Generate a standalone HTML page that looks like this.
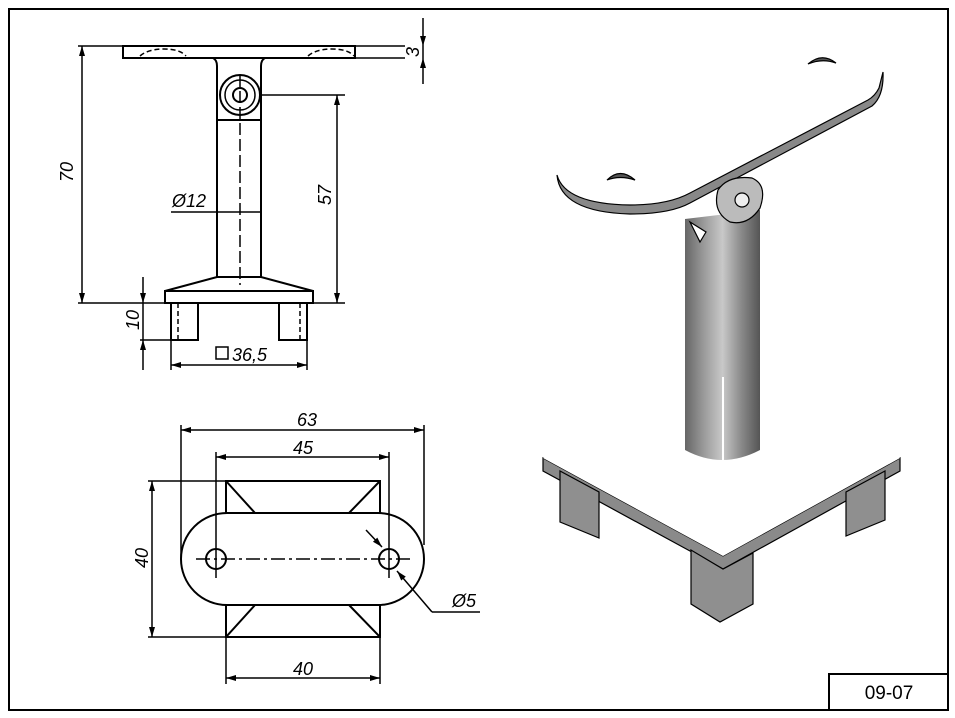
<!DOCTYPE html>
<html><head><meta charset="utf-8"><style>
html,body{margin:0;padding:0;background:#fff;}
svg{display:block;}
text{font-family:"Liberation Sans",sans-serif;font-style:italic;fill:#000;}
</style></head><body>
<svg width="955" height="718" viewBox="0 0 955 718" xmlns="http://www.w3.org/2000/svg">
<defs>
<marker id="a" viewBox="0 0 10 6" refX="10" refY="3" markerWidth="8" markerHeight="4" orient="auto-start-reverse"><path d="M0,0L10,3L0,6z" fill="#000"/></marker>
<linearGradient id="tube" x1="0" x2="1" y1="0" y2="0">
<stop offset="0" stop-color="#666"/><stop offset="0.25" stop-color="#9a9a9a"/><stop offset="0.5" stop-color="#c8c8c8"/><stop offset="0.75" stop-color="#8a8a8a"/><stop offset="1" stop-color="#555"/></linearGradient>
</defs>
<rect x="9" y="9" width="939" height="701" fill="none" stroke="#000" stroke-width="2"/>
<rect x="829" y="674" width="119" height="36" fill="none" stroke="#000" stroke-width="2"/>
<text x="889" y="699" font-size="19" text-anchor="middle" style="font-style:normal">09-07</text>

<g stroke="#000" stroke-width="2" fill="none">
<rect x="123" y="46" width="232" height="12" fill="#fff"/>
<path d="M140,56 q8,-7 24,-7 q16,0 22,7" stroke-dasharray="5,3" stroke-width="1.5"/>
<path d="M308,56 q8,-7 24,-7 q16,0 22,7" stroke-dasharray="5,3" stroke-width="1.5"/>
<path d="M213,58 q4,2 4,8 L217,120 L261,120 L261,66 q0,-6 4,-8"/>
<circle cx="240" cy="95" r="20"/><circle cx="240" cy="95" r="15" stroke-width="1.5"/>
<circle cx="240" cy="95" r="7"/>
<line x1="217" y1="120" x2="261" y2="120" stroke-dasharray="6,3"/>
<line x1="217" y1="120" x2="217" y2="277"/><line x1="261" y1="120" x2="261" y2="277"/>
<path d="M217,277 L261,277 L313,291 L165,291 Z"/>
<rect x="165" y="291" width="148" height="12"/>
<path d="M171,303 V340 H198 V303"/><path d="M279,303 V340 H307 V303"/>
<line x1="178" y1="303" x2="178" y2="340" stroke-dasharray="5,3" stroke-width="1.5"/>
<line x1="300" y1="303" x2="300" y2="340" stroke-dasharray="5,3" stroke-width="1.5"/>
<line x1="240" y1="75" x2="240" y2="285" stroke-dasharray="12,4" stroke-width="1.5"/>
<g stroke-width="1.5">
<line x1="78" y1="46" x2="123" y2="46"/><line x1="355" y1="46" x2="405" y2="46"/><line x1="355" y1="58" x2="405" y2="58"/>
<line x1="423" y1="18" x2="423" y2="46" marker-end="url(#a)"/><line x1="423" y1="84" x2="423" y2="58" marker-end="url(#a)"/><line x1="423" y1="46" x2="423" y2="58"/>
<line x1="82" y1="46" x2="82" y2="303" marker-start="url(#a)" marker-end="url(#a)"/>
<line x1="78" y1="303" x2="345" y2="303"/>
<line x1="262" y1="95" x2="345" y2="95"/>
<line x1="337" y1="95" x2="337" y2="303" marker-start="url(#a)" marker-end="url(#a)"/>
<line x1="171" y1="212" x2="261" y2="212"/>
<line x1="143" y1="277" x2="143" y2="303" marker-end="url(#a)"/><line x1="143" y1="370" x2="143" y2="340" marker-end="url(#a)"/><line x1="143" y1="303" x2="143" y2="340"/>
<line x1="140" y1="340" x2="171" y2="340"/>
<line x1="171" y1="340" x2="171" y2="370"/><line x1="307" y1="340" x2="307" y2="370"/>
<line x1="171" y1="365" x2="307" y2="365" marker-start="url(#a)" marker-end="url(#a)"/>
</g>

<rect x="226" y="481" width="154" height="156"/>
<path d="M226,481 L255,513 M380,481 L349,513 M226,637 L255,605 M380,637 L349,605"/>
<rect x="181" y="513" width="243" height="92" rx="46" fill="#fff"/>
<circle cx="216" cy="559" r="10"/><circle cx="389" cy="559" r="10"/>
<g stroke-width="1.5">
<line x1="196" y1="559" x2="410" y2="559" stroke-dasharray="14,4,3,4"/>
<line x1="181" y1="425" x2="181" y2="560"/><line x1="424" y1="425" x2="424" y2="545"/>
<line x1="181" y1="430" x2="424" y2="430" marker-start="url(#a)" marker-end="url(#a)"/>
<line x1="216" y1="452" x2="216" y2="578"/><line x1="389" y1="452" x2="389" y2="578"/>
<line x1="216" y1="457" x2="389" y2="457" marker-start="url(#a)" marker-end="url(#a)"/>
<line x1="148" y1="481" x2="226" y2="481"/><line x1="148" y1="637" x2="226" y2="637"/>
<line x1="152" y1="481" x2="152" y2="637" marker-start="url(#a)" marker-end="url(#a)"/>
<line x1="226" y1="637" x2="226" y2="684"/><line x1="380" y1="637" x2="380" y2="684"/>
<line x1="226" y1="678" x2="380" y2="678" marker-start="url(#a)" marker-end="url(#a)"/>
<line x1="366" y1="530" x2="382" y2="547" marker-end="url(#a)"/>
<path d="M432,612 L480,612"/><line x1="432" y1="612" x2="397" y2="571" marker-end="url(#a)"/>
</g>
</g>
<g font-size="18">
<text x="73" y="172" transform="rotate(-90 73 172)" text-anchor="middle">70</text>
<text x="331" y="195" transform="rotate(-90 331 195)" text-anchor="middle">57</text>
<text x="419" y="52" transform="rotate(-90 419 52)" text-anchor="middle">3</text>
<text x="139" y="320" transform="rotate(-90 139 320)" text-anchor="middle">10</text>
<text x="172" y="207">Ø12</text>
<text x="232" y="361">36,5</text>
<text x="307" y="426" text-anchor="middle">63</text>
<text x="303" y="454" text-anchor="middle">45</text>
<text x="148" y="558" transform="rotate(-90 148 558)" text-anchor="middle">40</text>
<text x="303" y="675" text-anchor="middle">40</text>
<text x="452" y="607">Ø5</text>
</g>
<rect x="216" y="347" width="12" height="12" fill="none" stroke="#000" stroke-width="1.5"/>

<g stroke="#000" stroke-width="1.2">
<path d="M543,458 L723,556 L900,458 L900,471 L723,569 L543,471 Z" fill="#8a8a8a"/>
<path d="M543,458 L723,556 L900,458 L770,385 L685,425 Z" fill="#fff" stroke="none"/>
<path d="M560,471 L560,522 L599,538 L599,492 Z" fill="#8f8f8f"/>
<path d="M691,550 L691,604 L720,622 L753,604 L753,553 L723,569 Z" fill="#8f8f8f"/>
<path d="M846,492 L846,536 L885,520 L885,471 Z" fill="#8f8f8f"/>
<path d="M685,219 L685,450 Q722,470 760,450 L760,210 Z" fill="url(#tube)" stroke="none"/>
<line x1="723" y1="377" x2="723" y2="460" stroke="#fff" stroke-width="2"/>
<path d="M557,175 Q560,212 630,214 Q670,214 690,203 L872,106 Q884,96 883,72 L879,88 Q875,96 868,100 L690,193 Q668,205 630,205 Q565,204 557,175 Z" fill="#888"/>
<path d="M718,190 Q728,175 752,178 Q768,185 760,208 Q748,226 730,222 Q712,212 718,190 Z" fill="#bbb"/>
<circle cx="742" cy="200" r="7" fill="#eee"/>
<path d="M690,222 L706,232 L700,242 Z" fill="#fff"/>
<path d="M607,180 Q620,167 635,180 Q620,175 607,180 Z" fill="#555"/>
<path d="M808,64 Q822,52 836,63 Q822,58 808,64 Z" fill="#555"/>
</g>
</svg>
</body></html>
